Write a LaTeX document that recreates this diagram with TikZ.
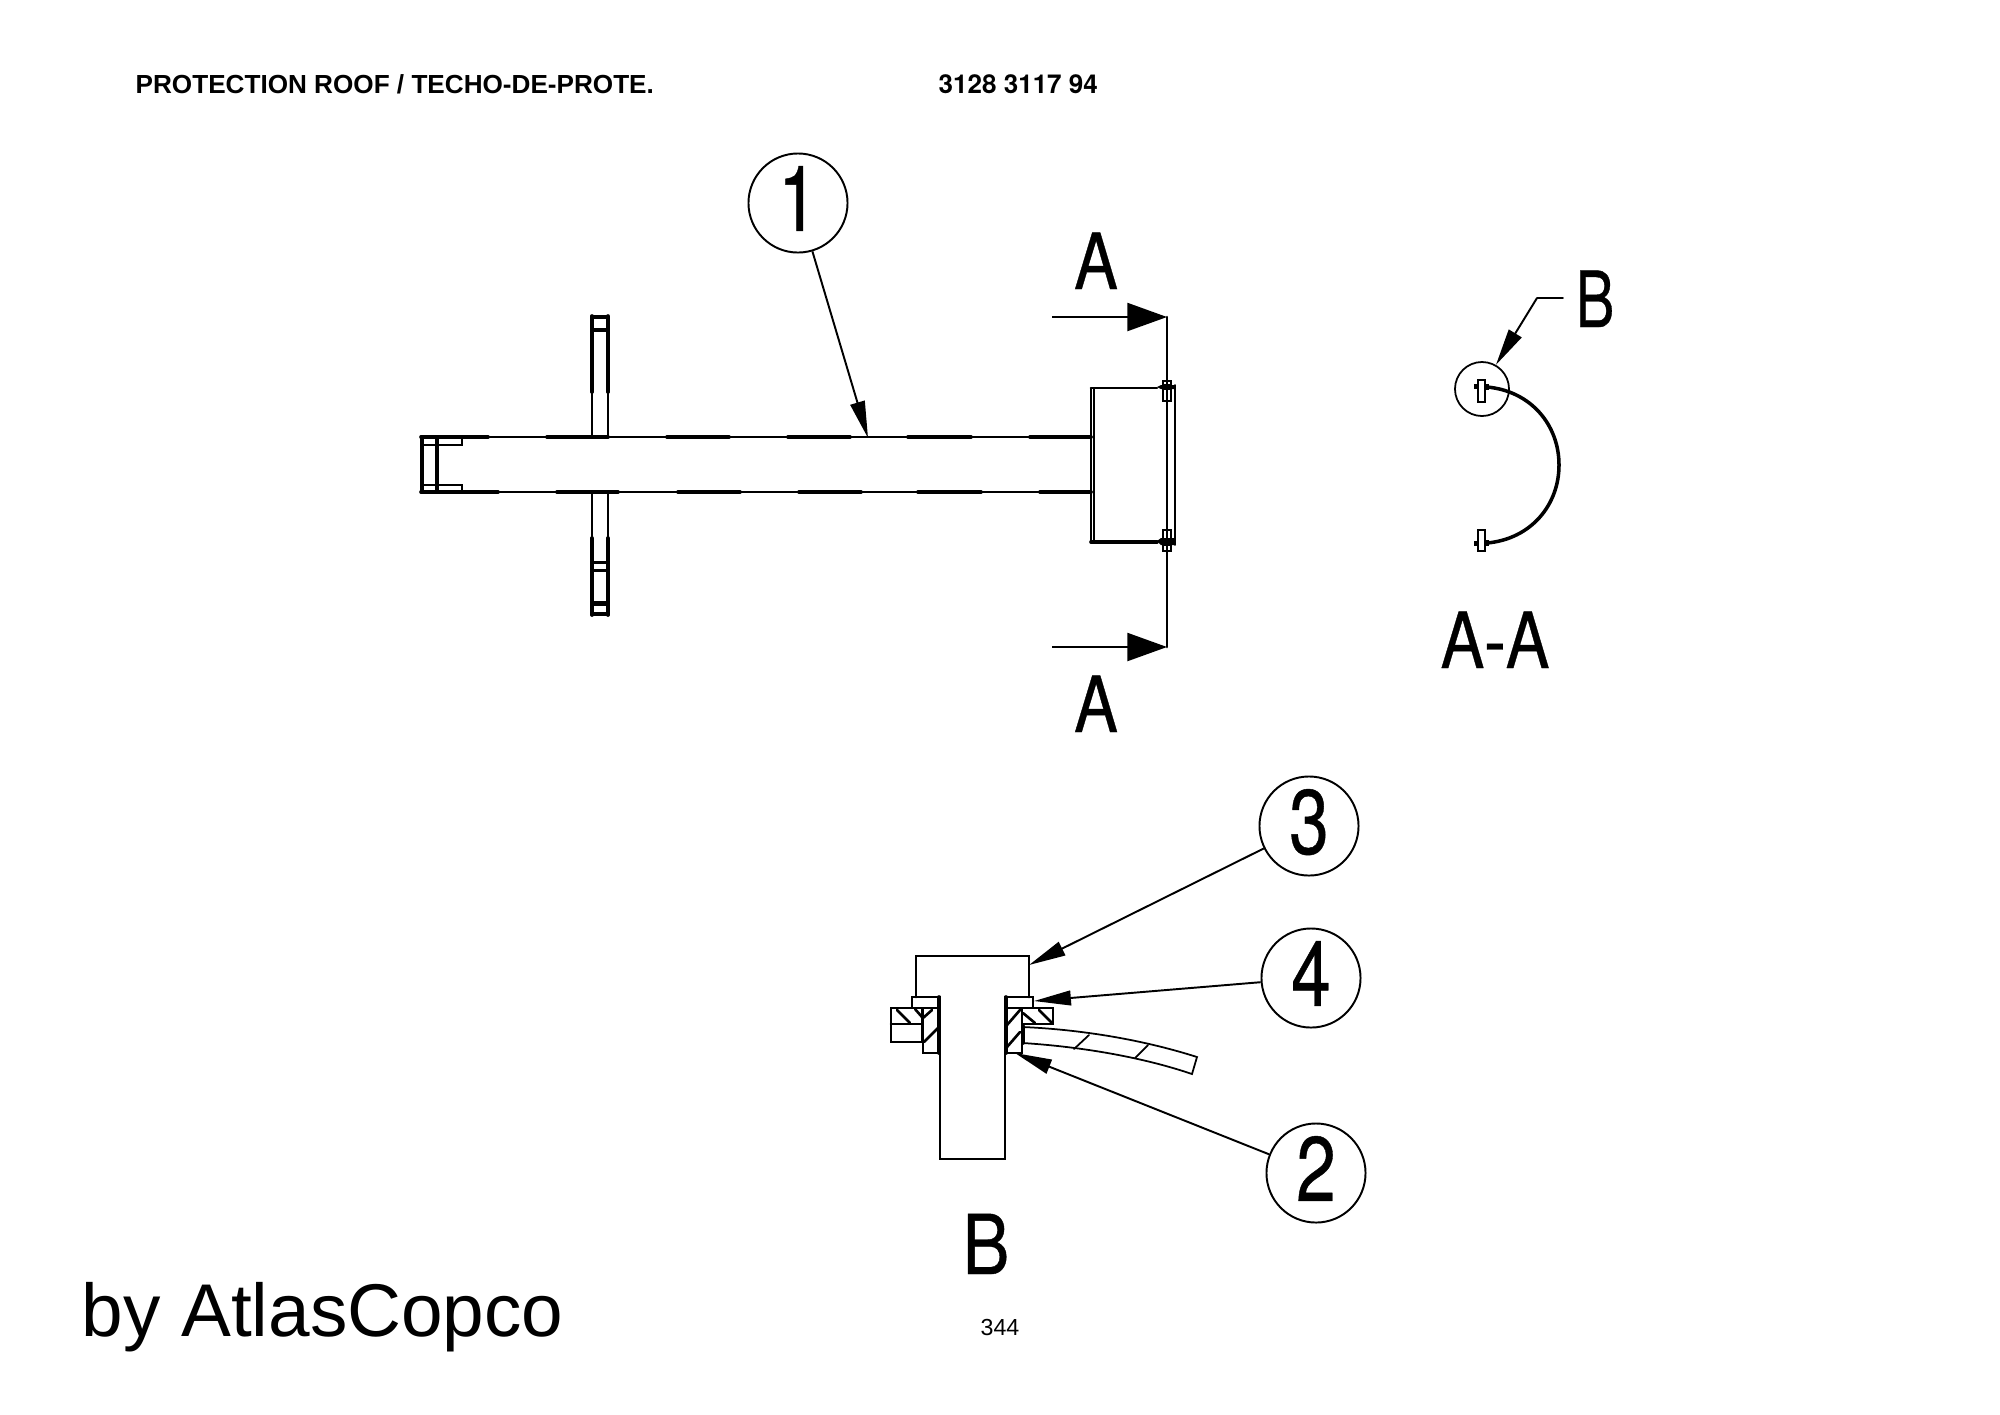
\documentclass[tikz,border=0pt]{standalone}
\usepackage{graphicx}
\usepackage{fontspec}
\setmainfont{Liberation Sans}
\newfontfamily\cadfont[FakeBold=0.5]{TeX Gyre Heros}
\newfontfamily\numfont{TeX Gyre Heros}
\usetikzlibrary{arrows.meta}
\tikzstyle{thinline}=[line width=0.5pt,line cap=round]
\tikzstyle{midline}=[line width=0.75pt,line cap=round]
\tikzstyle{thickline}=[line width=1.05pt,line cap=round]
\tikzstyle{balloon}=[circle,draw,line width=0.55pt,minimum size=0.99cm,inner sep=0pt,font=\cadfont\fontsize{26}{26}\selectfont]
\tikzstyle{cadletter}=[inner sep=0pt,anchor=base,font=\cadfont\fontsize{22}{22}\selectfont]
\tikzstyle{headtext}=[inner sep=0pt,anchor=base west,font=\fontsize{7.43}{7.43}\selectfont\bfseries]
\tikzstyle{sectiontip}=[-{Triangle[length=11.3pt,width=8pt,sep=0pt]},line width=0.55pt]
\tikzstyle{leadertip}=[-{Triangle[length=10.5pt,width=4.2pt,sep=0pt]},line width=0.55pt]
\newcommand{\narrowA}[1]{\scalebox{.85}[1]{#1}}
\newcommand{\narrowB}[1]{\scalebox{.75}[1]{#1}}
\newcommand{\digit}[1]{\raisebox{2.6pt}{\scalebox{.78}[1]{#1}}\hspace{3pt}}
\begin{document}
\begin{tikzpicture}[x=0.01cm,y=-0.01cm]
\useasboundingbox (0,0) rectangle (2000,1414);
% texts
\node[headtext] (title) at (135,93) {PROTECTION ROOF / TECHO-DE-PROTE.};
\node[headtext,font=\numfont\fontsize{7.4}{7.4}\selectfont\bfseries] (number) at (938,93) {3128 3117 94};
\node[inner sep=0pt,anchor=base west,font=\fontsize{21.25}{21.25}\selectfont] (brand) at (81,1336) {by AtlasCopco};
\node[inner sep=0pt,anchor=base,font=\fontsize{6.6}{6.6}\selectfont] (page) at (1000,1335) {344};
\node[cadletter] (atop) at (1096,289) {\narrowA{A}};
\node[cadletter] (abot) at (1096,732) {\narrowA{A}};
\node[cadletter] (aa) at (1495,668) {\narrowA{A-A}};
\node[cadletter] (blabel) at (1595,327) {\narrowB{B}};
\node[cadletter,font=\cadfont\fontsize{23.5}{23.5}\selectfont] (bdetail) at (986,1274) {\narrowA{B}};

% balloons
\node[balloon] (c1) at (798,203) {\digit{1}};
\node[balloon] (c3) at (1309,826) {\digit{3}};
\node[balloon] (c4) at (1311,978) {\digit{4}};
\node[balloon] (c2) at (1316,1173) {\digit{2}};

% free ends
\coordinate (tip1) at (868,438);
\coordinate (tip3) at (1029,965);
\coordinate (tip4) at (1034,1001);
\coordinate (tip2) at (1015,1053);
\coordinate (atopstart) at (1052,317);
\coordinate (atopend) at (1167,317);
\coordinate (abotstart) at (1052,647);
\coordinate (abotend) at (1167,647);

% tube
\draw[thinline] (421,437) -- (1091,437);
\draw[thinline] (421,492) -- (1091,492);
\draw[thickline] (421,437) -- (488,437);
\draw[thickline] (547,437) -- (608,437);
\draw[thickline] (667,437) -- (729,437);
\draw[thickline] (788,437) -- (850,437);
\draw[thickline] (908,437) -- (971,437);
\draw[thickline] (1030,437) -- (1091,437);
\draw[thickline] (421,492) -- (498,492);
\draw[thickline] (557,492) -- (618,492);
\draw[thickline] (678,492) -- (740,492);
\draw[thickline] (799,492) -- (861,492);
\draw[thickline] (918,492) -- (981,492);
\draw[thickline] (1040,492) -- (1091,492);
\draw[thickline] (422,437) -- (422,492);
\draw[thickline] (437,437) -- (437,492);
\draw[thinline] (421,445) -- (462,445) -- (462,437);
\draw[thinline] (421,485) -- (462,485) -- (462,492);

% flange
\draw[thinline] (592,392) -- (592,437);
\draw[thinline] (608,392) -- (608,437);
\draw[thickline] (592,316) -- (592,392);
\draw[thickline] (608,316) -- (608,392);
\draw[thinline] (592,492) -- (592,538);
\draw[thinline] (608,492) -- (608,538);
\draw[thickline] (592,538) -- (592,615);
\draw[thickline] (608,538) -- (608,615);
\fill (591,315) rectangle (609,319);
\fill (591,328) rectangle (609,332);
\fill (591,561) rectangle (609,564);
\fill (591,569) rectangle (609,572);
\fill (591,601) rectangle (609,606);
\fill (591,612) rectangle (609,616);

% end box
\draw[thinline] (1091,388) -- (1091,542);
\draw[thinline] (1094,388) -- (1094,542);
\draw[midline] (1091,388) -- (1157,388);
\draw[thickline] (1091,542) -- (1157,542);
\draw[thinline] (1175,385) -- (1175,545);
\fill (1157,387) -- (1161,385) -- (1175,385) -- (1175,389) -- (1161,389) -- cycle;
\fill (1157,541) -- (1161,538) -- (1175,538) -- (1175,545) -- (1161,545) -- cycle;
\draw[thinline] (1163,381) rectangle (1171,385);
\draw[thinline] (1163,389) rectangle (1171,401);
\draw[thinline] (1163,530) rectangle (1171,539);
\draw[thinline] (1163,545) rectangle (1171,551);

% section line
\draw[sectiontip] (atopstart) -- (atopend);
\draw[sectiontip] (abotstart) -- (abotend);
\draw[midline] (atopend) -- (abotend);

% section a-a
\node[circle,draw,line width=0.5pt,minimum size=0.54cm,inner sep=0pt] (detail) at (1482,389) {};
\coordinate (bfree) at (1563,298);
\coordinate (bbend) at (1537,298);
\draw[thinline] (bfree) -- (bbend);
\draw[leadertip] (bbend) -- (detail.60);
\draw[line width=1pt] (1487,387) .. controls (1531,391) and (1559,425) .. (1559,465) .. controls (1559,505) and (1531,539) .. (1487,543);
\draw[thinline] (1478,380) rectangle (1485,402);
\fill (1474,384) rectangle (1478,389);
\fill (1485,384) rectangle (1489,390);
\draw[thinline] (1478,530) rectangle (1485,551);
\fill (1474,541) rectangle (1478,546);
\fill (1485,540) rectangle (1489,546);

% detail b
\draw[midline] (916,997) -- (916,956) -- (1029,956) -- (1029,997);
\draw[midline] (940,997) -- (940,1159) -- (1005,1159) -- (1005,997);
\draw[midline] (912,997) rectangle (940,1008);
\draw[midline] (1005,997) rectangle (1033,1008);
\draw[thickline] (939,997) -- (939,1053);
\draw[thickline] (1006,997) -- (1006,1053);
\draw[midline] (891,1008) rectangle (922,1042);
\draw[midline] (891,1024) -- (922,1024);
\draw[midline] (923,1008) rectangle (940,1053);
\draw[midline] (1005,1008) rectangle (1022,1053);
\draw[midline] (1022,1008) rectangle (1053,1024);
\draw[midline] (897,1010) -- (910,1023);
\draw[midline] (915,1009) -- (922,1017);
\draw[midline] (932,1010) -- (923,1018);
\draw[midline] (938,1028) -- (924,1042);
\draw[midline] (1020,1010) -- (1007,1025);
\draw[midline] (1020,1032) -- (1007,1047);
\draw[midline] (1023,1013) -- (1035,1023);
\draw[midline] (1039,1010) -- (1052,1023);
\draw[thinline] (1023,1027) .. controls (1090,1030) and (1150,1042) .. (1197,1057) -- (1192,1074) .. controls (1145,1058) and (1085,1047) .. (1023,1043);
\draw[thickline] (1023,1026) -- (1023,1043);
\draw[thinline] (1089,1035) -- (1074,1049);
\draw[thinline] (1148,1045) -- (1135,1058);

% leaders
\draw[leadertip] (c1) -- (tip1);
\draw[leadertip] (c3) -- (tip3);
\draw[leadertip] (c4) -- (tip4);
\draw[leadertip] (c2) -- (tip2);
\end{tikzpicture}
\end{document}
